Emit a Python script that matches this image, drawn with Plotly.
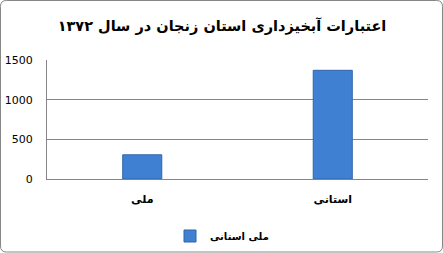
import plotly.graph_objects as go

categories = ["ملی", "استانی"]
values = [305, 1370]
series_name = "ملی استانی"
title_text = "اعتبارات آبخیزداری استان زنجان در سال ۱۳۷۲"
y_ticks = [0, 500, 1000, 1500]

W, H = 443, 253
L, R, T, B = 47, 15, 60, 74
pw = W - L - R
ph = H - T - B

def px_x(p):
    return (p - L) / pw

def px_y(p):
    return (H - B - p) / ph

# rounded border path (paper coords)
x0, x1, y0, y1, r = 0.5, 442.5, 0.5, 252, 6
def P(x, y):
    return f"{px_x(x):.5f},{px_y(y):.5f}"
border = (f"M {P(x0 + r, y0)} L {P(x1 - r, y0)} Q {P(x1, y0)} {P(x1, y0 + r)} "
          f"L {P(x1, y1 - r)} Q {P(x1, y1)} {P(x1 - r, y1)} "
          f"L {P(x0 + r, y1)} Q {P(x0, y1)} {P(x0, y1 - r)} "
          f"L {P(x0, y0 + r)} Q {P(x0, y0)} {P(x0 + r, y0)} Z")

fig = go.Figure()
fig.add_trace(go.Bar(
    x=categories, y=values, name=series_name,
    marker=dict(color="#4080D2", line=dict(color="#2F64A8", width=1)),
    showlegend=True,
))

fig.update_layout(
    width=W, height=H,
    margin=dict(l=L, r=R, t=T, b=B, autoexpand=False),
    paper_bgcolor="white", plot_bgcolor="white",
    bargap=0.795,
    title=dict(text=title_text, x=222 / W, xref="container", xanchor="center",
               y=1 - 26 / H, yref="container", yanchor="middle",
               font=dict(family="DejaVu Sans", size=14.5, color="black", weight="bold")),
    xaxis=dict(showgrid=False, showline=True, linecolor="#868686", linewidth=1,
               ticks="", ticklabelstandoff=10,
               tickfont=dict(family="DejaVu Sans", size=11, color="black", weight="bold")),
    yaxis=dict(range=[0, 1500], tickvals=y_ticks, showgrid=True, gridcolor="#868686",
               gridwidth=1, showline=True, linecolor="#868686", linewidth=1,
               zeroline=False, ticks="", ticklabelstandoff=11,
               tickfont=dict(family="DejaVu Sans", size=11, color="black")),
    legend=dict(orientation="h", xref="container", yref="container",
                x=222 / W, xanchor="center", y=1 - 236 / H, yanchor="middle",
                font=dict(family="DejaVu Sans", size=10, color="black", weight="bold"),
                itemwidth=30, bgcolor="rgba(0,0,0,0)"),
    shapes=[dict(type="path", xref="paper", yref="paper", path=border,
                 line=dict(color="#868686", width=1), layer="below")],
)

fig.write_html("out.html")
